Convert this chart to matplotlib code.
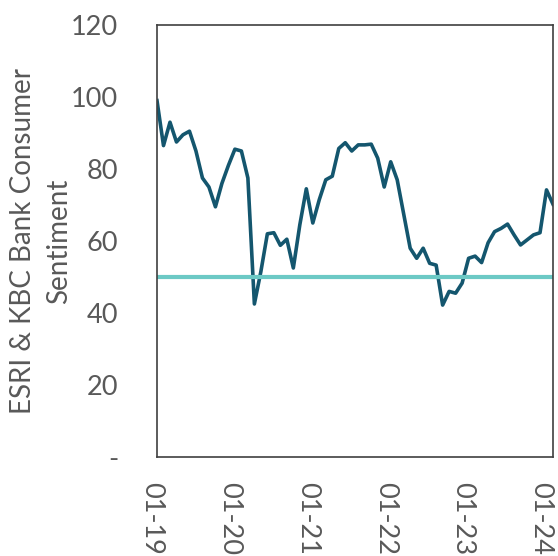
import matplotlib

matplotlib.use("Agg")
import matplotlib.pyplot as plt
import matplotlib.transforms as mtransforms
import numpy as np

# Monthly index, Jan 2019 - Feb 2024
sentiment = [
    99.0, 86.5, 93.0, 87.5, 89.5, 90.5, 85.0, 77.5, 75.0, 69.5,
    76.0, 81.0, 85.5, 85.0, 77.5, 42.5, 51.5, 62.0, 62.3, 58.8,
    60.5, 52.5, 64.5, 74.5, 65.0, 71.5, 77.0, 78.0, 85.7, 87.3,
    85.0, 86.7, 86.7, 86.9, 83.0, 75.0, 82.0, 77.0, 67.5, 58.0,
    55.2, 58.0, 53.8, 53.3, 42.2, 46.0, 45.5, 48.3, 55.2, 55.8,
    54.0, 59.5, 62.6, 63.5, 64.7, 61.7, 58.9, 60.3, 61.7, 62.3,
    74.2, 70.2,
]
threshold = 50
year_labels = ["01-19", "01-20", "01-21", "01-22", "01-23", "01-24"]
year_positions = [0, 12, 24, 36, 48, 60]
y_ticks = [0, 20, 40, 60, 80, 100, 120]
y_tick_labels = ["-", "20", "40", "60", "80", "100", "120"]

plt.rcParams["font.family"] = ["Lato", "DejaVu Sans"]

fig = plt.figure(figsize=(5.58, 5.56), dpi=100)
ax = fig.add_axes([157 / 558, 1 - 457 / 556, 396 / 558, 432 / 556])

months = np.arange(len(sentiment))
ax.plot(months, sentiment, color="#14566e", linewidth=2.6, solid_joinstyle="round")
ax.axhline(threshold, color="#6cc9c5", linewidth=3.0)

ax.set_xlim(0, len(sentiment) - 1)
ax.set_ylim(0, 120)
ax.set_yticks(y_ticks)
ax.set_yticklabels(y_tick_labels)
ax.set_xticks(year_positions)
ax.set_xticklabels(year_labels, rotation=270)

ax.tick_params(axis="both", length=0, labelsize=19.5, labelcolor="#595959")
ax.tick_params(axis="y", pad=28)
ax.tick_params(axis="x", pad=18)

# nudge the rotated date labels slightly left of their ticks
shift = mtransforms.ScaledTranslation(-4 / 72, 0, fig.dpi_scale_trans)
for label in ax.get_xticklabels():
    label.set_transform(label.get_transform() + shift)

for spine in ax.spines.values():
    spine.set_color("#404040")
    spine.set_linewidth(1.2)

ax.set_ylabel("ESRI & KBC Bank Consumer\nSentiment", fontsize=20,
              color="#595959", linespacing=1.45)
ax.yaxis.set_label_coords(-0.215, 0.5)

fig.savefig("out.png", dpi=100)
